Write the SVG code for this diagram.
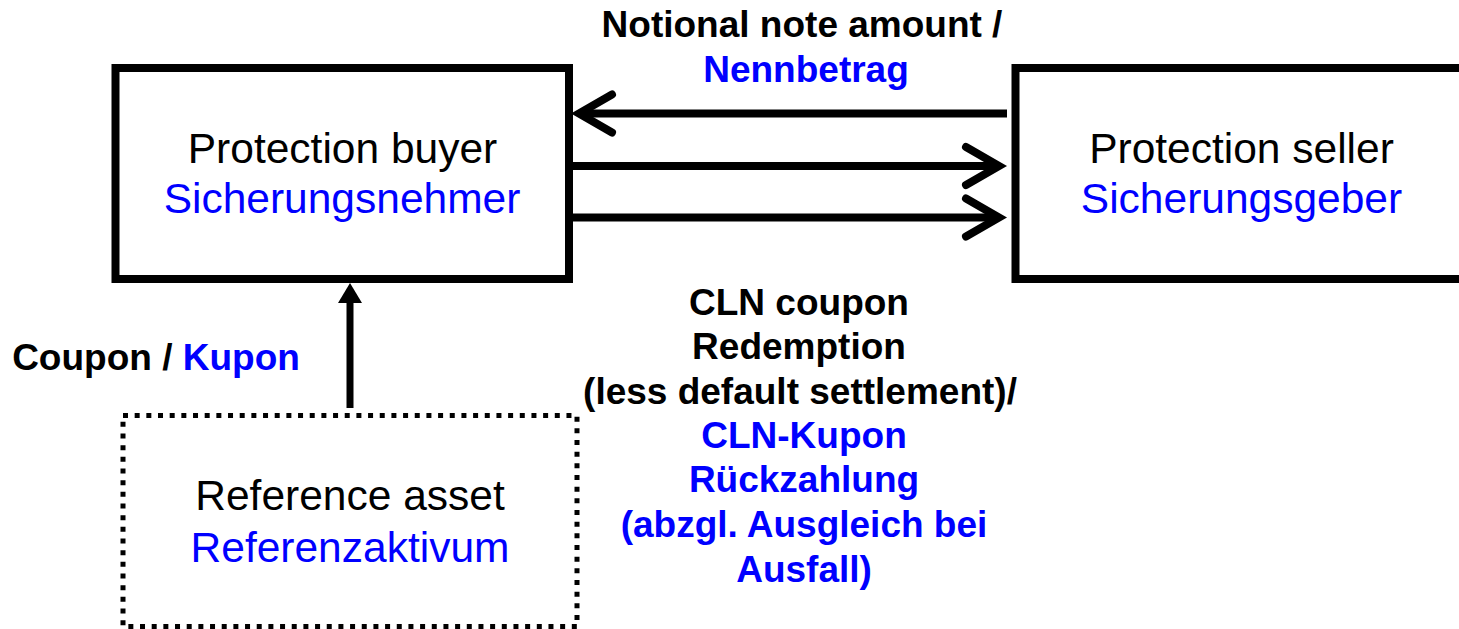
<svg xmlns="http://www.w3.org/2000/svg" width="1459" height="629" viewBox="0 0 1459 629">
<defs>
<style>
.box{fill:#fff;stroke:#000;stroke-width:8}
.dot{fill:#fff;stroke:#000;stroke-width:5;stroke-dasharray:5 6.67}
.t{font-family:"Liberation Sans",Arial,sans-serif;font-size:42.5px;text-anchor:middle}
.b{font-family:"Liberation Sans",Arial,sans-serif;font-size:37px;font-weight:bold;text-anchor:middle}
.k{fill:#000}
.u{fill:#0000FF}
.conn{stroke:#000;stroke-width:8;fill:none}
</style>
<marker id="chev" markerUnits="userSpaceOnUse" orient="auto" refX="0" refY="0" markerWidth="60" markerHeight="60" viewBox="-40 -30 60 60" overflow="visible">
<path d="M-33,-19 L0,0 L-33,19" fill="none" stroke="#000" stroke-width="8" stroke-linecap="round" stroke-linejoin="miter"/>
</marker>
<marker id="tri" markerUnits="userSpaceOnUse" orient="auto" refX="0" refY="0" markerWidth="30" markerHeight="30" viewBox="0 -15 30 30" overflow="visible">
<path d="M0,-12 L20,0 L0,12 Z" fill="#000"/>
</marker>
</defs>
<rect width="1459" height="629" fill="#fff"/>
<g id="connectors">
<line class="conn" x1="1007" y1="113.5" x2="579" y2="113.5" marker-end="url(#chev)"/>
<line class="conn" x1="573" y1="166" x2="999" y2="166" marker-end="url(#chev)"/>
<line class="conn" x1="573" y1="217.5" x2="999" y2="217.5" marker-end="url(#chev)"/>
<line class="conn" style="stroke-width:7" x1="350" y1="408" x2="350" y2="303" marker-end="url(#tri)"/>
</g>
<g id="buyer">
<rect class="box" x="115.5" y="68" width="453.5" height="211"/>
<text class="t k" x="342.5" y="163">Protection buyer</text>
<text class="t u" x="342" y="213">Sicherungsnehmer</text>
</g>
<g id="seller">
<rect class="box" x="1015.5" y="68" width="470" height="211"/>
<text class="t k" x="1241.5" y="163">Protection seller</text>
<text class="t u" x="1241.5" y="213">Sicherungsgeber</text>
</g>
<g id="reference">
<rect class="dot" x="123" y="415.5" width="454" height="211"/>
<text class="t k" x="350" y="510">Reference asset</text>
<text class="t u" x="350" y="562">Referenzaktivum</text>
</g>
<g id="labels">
<text class="b k" x="802" y="37">Notional note amount /</text>
<text class="b u" x="806" y="82">Nennbetrag</text>
<text class="b" x="156" y="370"><tspan class="k">Coupon / </tspan><tspan class="u">Kupon</tspan></text>
<text class="b k" x="799" y="314.5">CLN coupon</text>
<text class="b k" x="799" y="359">Redemption</text>
<text class="b k" x="800" y="403.5">(less default settlement)/</text>
<text class="b u" x="804" y="447.5">CLN-Kupon</text>
<text class="b u" x="804" y="492">Rückzahlung</text>
<text class="b u" x="804" y="536.5">(abzgl. Ausgleich bei</text>
<text class="b u" x="804" y="581.5">Ausfall)</text>
</g>
</svg>
